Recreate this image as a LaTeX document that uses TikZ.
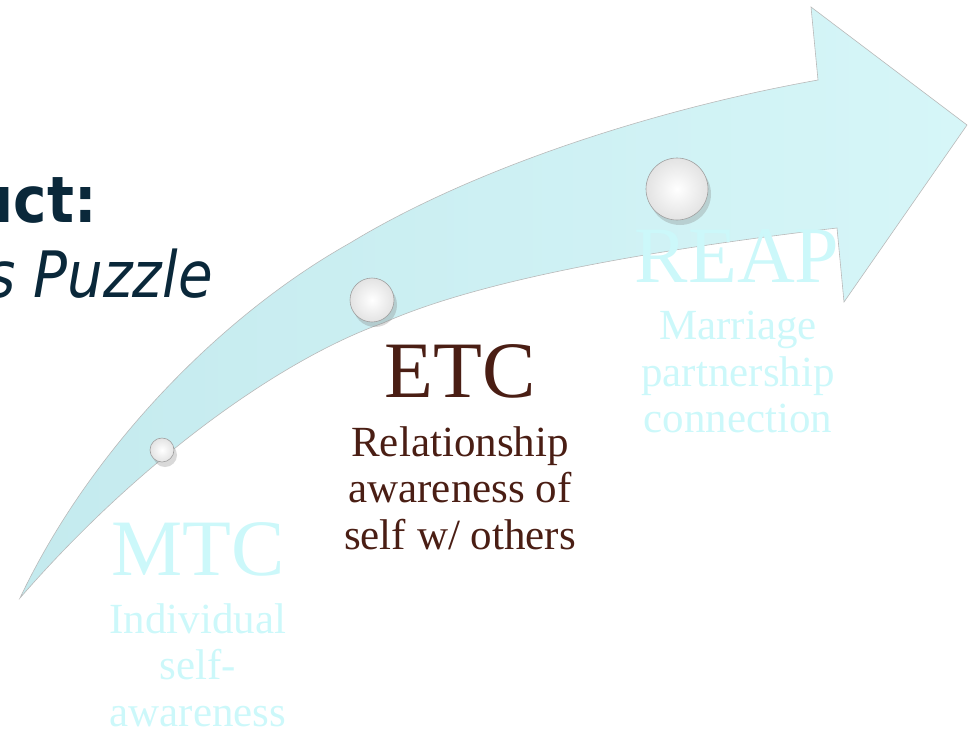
\documentclass[tikz,border=0pt]{standalone}
\usepackage{fontspec}
\setmainfont{Liberation Serif}
\newfontfamily\titlefont[FakeStretch=0.88]{DejaVu Sans}
\usetikzlibrary{shadows}
\definecolor{navy}{RGB}{10,40,58}
\definecolor{brownish}{RGB}{74,30,20}
\definecolor{faint}{RGB}{204,248,250}
\definecolor{arrowA}{RGB}{196,234,238}
\definecolor{arrowB}{RGB}{174,219,225}
\definecolor{arrowC}{RGB}{214,246,248}
\tikzset{
    pearl/.style={circle, inner sep=0pt, draw=gray!75, line width=0.6pt,
        inner color=white, outer color=gray!22,
        drop shadow={shadow xshift=3pt, shadow yshift=-5pt, opacity=0.3}},
    stagename/.style={anchor=base, inner sep=0pt, font=\fontsize{80}{80}\selectfont},
    stagetext/.style={anchor=north, inner sep=0pt, align=center,
        font=\fontsize{43}{46.5}\selectfont}
}
\begin{document}
\begin{tikzpicture}[x=1pt, y=-1pt]
                \useasboundingbox (0,0) rectangle (971,729);
                % curved arrow
                \draw[gray!55, line width=0.6pt, left color=arrowA, middle color=arrowB, right color=arrowC]
                    (20,598) .. controls (90,450) and (220,316) .. (350,243)
                    .. controls (470,170) and (650,110) .. (818,80)
                    -- (811,7) -- (967,125) -- (844,302) -- (837,228)
                    .. controls (650,250) and (480,280) .. (383,323)
                    .. controls (280,360) and (140,460) .. (20,598) -- cycle;
                % title
                \node[anchor=base east, inner sep=0pt, text=navy, font=\titlefont\bfseries\fontsize{64}{64}\selectfont] (uct) at (97,222) {uct:};
                \node[anchor=base east, inner sep=0pt, text=navy, font=\titlefont\itshape\fontsize{64}{64}\selectfont] (puzzle) at (213,297) {s Puzzle};
                % pearls
                \node[pearl, minimum size=24pt] (pmtc) at (162,450) {};
                \node[pearl, minimum size=44pt] (petc) at (372,300) {};
                \node[pearl, minimum size=62pt] (preap) at (677,189) {};
                % stages
                \node[stagename, text=faint] (mtc) at (198,575) {MTC};
                \node[stagetext, text=faint] (mtctext) at (198,603) {Individual\\self-\\awareness};
                \node[stagename, text=brownish] (etc) at (460,397) {ETC};
                \node[stagetext, text=brownish] (etctext) at (460,426) {Relationship\\awareness of\\self w/ others};
                \node[stagename, text=faint] (reap) at (737,282) {REAP};
                \node[stagetext, text=faint] (reaptext) at (738,311) {Marriage\\partnership\\connection};
            \end{tikzpicture}
\end{document}
